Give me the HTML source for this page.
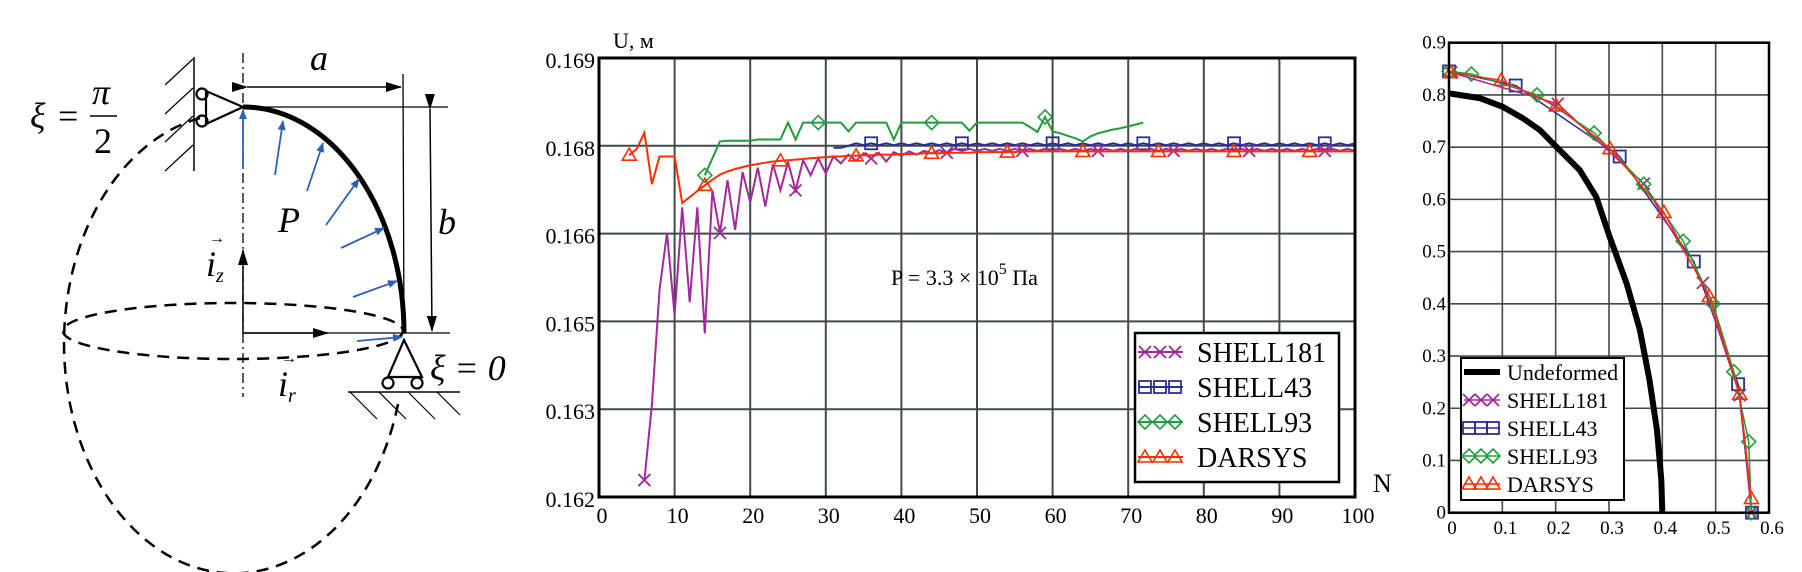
<!DOCTYPE html>
<html><head><meta charset="utf-8"><style>
html,body{margin:0;padding:0;background:#fff}
svg{display:block}
text{font-family:"Liberation Serif",serif;fill:#000}
</style></head><body>
<svg id="fig" width="1802" height="572" viewBox="0 0 1802 572" xmlns="http://www.w3.org/2000/svg">
<defs>
<marker id="ab" markerWidth="10" markerHeight="8" refX="9" refY="4" orient="auto" markerUnits="userSpaceOnUse"><path d="M0,0 L10,4 L0,8 Z" fill="#2e5fb8"/></marker>
<marker id="ak" markerWidth="16" markerHeight="10" refX="15" refY="5" orient="auto" markerUnits="userSpaceOnUse"><path d="M0,0 L16,5 L0,10 Z" fill="#000"/></marker>
</defs>
<g id="diagram" fill="none" stroke="#000">
  <line x1="243" y1="53" x2="243" y2="397" stroke-width="1.3" stroke-dasharray="10,4,2,4"/>
  <path d="M200,118 A170,230 0 1 0 398,404" stroke-width="2.5" stroke-dasharray="12,8"/>
  <ellipse cx="233" cy="331" rx="170" ry="28" stroke-width="2.5" stroke-dasharray="12,8"/>
  <path d="M243,107 A161,226 0 0 1 404,333" stroke-width="5"/>
  <line x1="403" y1="74" x2="404" y2="333" stroke-width="1.3"/>
  <line x1="247" y1="87" x2="401" y2="87" stroke-width="1.5" marker-end="url(#ak)" marker-start="url(#ak)"/>
  <line x1="243" y1="107" x2="448" y2="107" stroke-width="1.3"/>
  <line x1="430" y1="109" x2="432" y2="331" stroke-width="1.5" marker-end="url(#ak)" marker-start="url(#ak)"/>
  <line x1="243" y1="333" x2="450" y2="333" stroke-width="1.3"/>
  <line x1="243" y1="333" x2="328" y2="333" stroke-width="1.5" marker-end="url(#ak)"/>
  <line x1="243" y1="333" x2="243" y2="250" stroke-width="1.5" marker-end="url(#ak)"/>
  <line x1="194" y1="57" x2="194" y2="171" stroke-width="1.5"/>
  <path d="M165,85L193,59M165,114L193,88M165,142L193,116M165,171L193,145" stroke-width="1.2"/>
  <circle cx="202" cy="94" r="5.5" stroke-width="2.2"/>
  <circle cx="202" cy="121" r="5.5" stroke-width="2.2"/>
  <path d="M206,91 L243,107 L206,124 Z" stroke-width="2.2"/>
  <path d="M404,340 L388,377 L422,377 Z" stroke-width="2.2"/>
  <circle cx="388" cy="383" r="5.5" stroke-width="2.2"/>
  <circle cx="417" cy="383" r="5.5" stroke-width="2.2"/>
  <line x1="348" y1="392" x2="460" y2="392" stroke-width="1.5"/>
  <path d="M350,392L377,419M379,392L406,419M408,392L435,419M437,392L460,415" stroke-width="1.2"/>
  <g stroke="#2e5fb8" stroke-width="1.8">
    <line x1="243" y1="169" x2="243" y2="110" marker-end="url(#ab)"/>
    <line x1="275" y1="175" x2="283" y2="121" marker-end="url(#ab)"/>
    <line x1="307" y1="191" x2="323" y2="143" marker-end="url(#ab)"/>
    <line x1="326" y1="225" x2="359" y2="179" marker-end="url(#ab)"/>
    <line x1="341" y1="248" x2="384" y2="228" marker-end="url(#ab)"/>
    <line x1="353" y1="297" x2="397" y2="281" marker-end="url(#ab)"/>
    <line x1="357" y1="341" x2="402" y2="337" marker-end="url(#ab)"/>
  </g>
  <line x1="90" y1="116" x2="117" y2="116" stroke-width="1.5"/>
</g>
<g font-size="36">
  <text x="30" y="128" font-style="italic">ξ</text>
  <text x="58" y="128">=</text>
  <text x="92" y="104" font-style="italic">π</text>
  <text x="94" y="153">2</text>
  <text x="310" y="70" font-style="italic">a</text>
  <text x="438" y="234" font-style="italic">b</text>
  <text x="278" y="232" font-style="italic">P</text>
  <text x="206" y="276" font-style="italic">i<tspan font-size="20" dy="6">z</tspan></text>
  <text x="209" y="243" font-size="16">→</text>
  <text x="278" y="396" font-style="italic">i<tspan font-size="20" dy="6">r</tspan></text>
  <text x="281" y="363" font-size="16">→</text>
  <text x="430" y="380" font-style="italic">ξ = 0</text>
</g>
<g id="mid"></g>
<g id="right"></g>
</svg>
<script>
// ---- middle chart data ----
const redStart = 4;
const redVals = [0.16745,0.16755,0.16781,0.16699,0.16743,0.16743,0.16743,0.16669,0.16678,0.16688,
0.16697,0.16706,0.16714,0.16719,0.16723,0.16726,0.16729,0.16731,0.16733,0.16735,
0.16736,0.16737,0.16738,0.16739,0.16740,0.16741,0.16742,0.16743,0.16743,0.16744,
0.16744,0.16745,0.16745,0.16746,0.16746,0.16746,0.16747,0.16747,0.16747,0.16748,
0.16748,0.16748,0.16749,0.16749,0.16749,0.16749,0.16750,0.16750,0.16750,0.16750,
0.16750,0.16750,0.16751,0.16751,0.16751,0.16751,0.16751,0.16751,0.16751,0.16751,
0.16751,0.16751,0.16751,0.16751,0.16751,0.16751,0.16751,0.16751,0.16751,0.16751,
0.16751,0.16751,0.16751,0.16751,0.16751,0.16751,0.16751,0.16751,0.16751,0.16751,
0.16751,0.16751,0.16751,0.16751,0.16751,0.16751,0.16751,0.16751,0.16751,0.16751,
0.16751,0.16751,0.16751,0.16751,0.16751,0.16751,0.16751];
const magStart = 6;
const magVals = [0.16227,0.16347,0.16530,0.16621,0.16490,0.16662,0.16511,0.16662,0.16461,0.16689,
0.16621,0.16705,0.16626,0.16718,0.16670,0.16725,0.16663,0.16731,0.16689,0.16734,
0.16689,0.16737,0.16713,0.16740,0.16716,0.16743,0.16732,0.16746,0.16736,0.16748,
0.16740,0.16749,0.16735,0.16750,0.16744,0.16751,0.16746,0.16752,0.16748,0.16753,
0.16749,0.16755,0.16752,0.16755,0.16752,0.16755,0.16752,0.16755,0.16752,0.16755,
0.16752,0.16755,0.16752,0.16755,0.16752,0.16755,0.16752,0.16755,0.16752,0.16755,
0.16752,0.16755,0.16752,0.16755,0.16752,0.16755,0.16752,0.16755,0.16752,0.16755,
0.16752,0.16755,0.16752,0.16755,0.16752,0.16755,0.16752,0.16755,0.16752,0.16755,
0.16752,0.16755,0.16752,0.16755,0.16752,0.16755,0.16752,0.16755,0.16752,0.16755,
0.16752,0.16755,0.16752,0.16755,0.16752];
const blueStart = 31;
const blueVals = [0.16757,0.16757,0.16760,0.16764,0.16761,0.16764,0.16761,0.16764,0.16761,0.16764,
0.16761,0.16764,0.16761,0.16764,0.16761,0.16764,0.16761,0.16764,0.16761,0.16764,
0.16761,0.16764,0.16761,0.16764,0.16761,0.16764,0.16761,0.16764,0.16761,0.16764,
0.16761,0.16764,0.16761,0.16764,0.16761,0.16764,0.16761,0.16764,0.16761,0.16764,
0.16761,0.16764,0.16761,0.16764,0.16761,0.16764,0.16761,0.16764,0.16761,0.16764,
0.16761,0.16764,0.16761,0.16764,0.16761,0.16764,0.16761,0.16764,0.16761,0.16764,
0.16761,0.16764,0.16761,0.16764,0.16761,0.16764,0.16761,0.16764,0.16761,0.16764];
const greenStart = 14;
const greenVals = [0.16713,0.16740,0.16767,0.16768,0.16768,0.16768,0.16768,0.16770,0.16770,0.16770,
0.16770,0.16797,0.16770,0.16797,0.16797,0.16797,0.16797,0.16797,0.16797,0.16783,
0.16797,0.16797,0.16797,0.16797,0.16797,0.16770,0.16797,0.16797,0.16797,0.16797,
0.16797,0.16797,0.16797,0.16797,0.16797,0.16784,0.16797,0.16797,0.16797,0.16797,
0.16797,0.16797,0.16797,0.16790,0.16782,0.16806,0.16783,0.16780,0.16776,0.16772,
0.16767,0.16775,0.16780,0.16783,0.16786,0.16788,0.16791,0.16794,0.16797];
const midYTicks = [0.169,0.1676,0.1662,0.1648,0.1634,0.162];
const midYLabels = ['0.169','0.168','0.166','0.165','0.163','0.162'];
const midXTicks = [0,10,20,30,40,50,60,70,80,90,100];
const midLegend = ['SHELL181','SHELL43','SHELL93','DARSYS'];

// ---- right chart data ----
const undefX = [0,0.0575,0.101,0.139,0.17,0.201,0.245,0.276,0.301,0.333,0.358,0.376,0.39,0.398,0.4];
const undefY = [0.803,0.794,0.777,0.755,0.733,0.701,0.656,0.605,0.529,0.439,0.35,0.254,0.158,0.063,0];
const s181X = [0.004,0.204,0.365,0.476,0.545,0.567];
const s181Y = [0.843,0.783,0.630,0.440,0.225,0];
const s43X = [0,0.125,0.32,0.459,0.542,0.568];
const s43Y = [0.845,0.818,0.682,0.481,0.246,0];
const s93X = [0,0.042,0.165,0.272,0.365,0.439,0.495,0.534,0.562,0.567];
const s93Y = [0.845,0.840,0.800,0.727,0.629,0.520,0.400,0.270,0.136,0];
const darX = [0.003,0.098,0.201,0.302,0.403,0.488,0.545,0.567];
const darY = [0.843,0.828,0.779,0.697,0.575,0.414,0.227,0.027];
const rTicksX = [0,0.1,0.2,0.3,0.4,0.5,0.6];
const rTicksY = [0,0.1,0.2,0.3,0.4,0.5,0.6,0.7,0.8,0.9];
const rLegend = ['Undeformed','SHELL181','SHELL43','SHELL93','DARSYS'];

const NS = 'http://www.w3.org/2000/svg';
function mk(tag, attrs, parent){const e=document.createElementNS(NS,tag);for(const k in attrs)e.setAttribute(k,attrs[k]);parent.appendChild(e);return e;}

const COL = {mag:'#a3289b', blue:'#2b2d91', green:'#1e9e3a', red:'#ff2d00'};
function marker(kind,x,y,col,parent){
  let e;
  if(kind==='x'){e=mk('path',{d:`M${x-6},${y-6}L${x+6},${y+6}M${x-6},${y+6}L${x+6},${y-6}`,stroke:col,'stroke-width':1.8,fill:'none'},parent);}
  else if(kind==='sq'){e=mk('rect',{x:x-6,y:y-6,width:12,height:12,stroke:col,'stroke-width':1.8,fill:'none'},parent);}
  else if(kind==='dm'){e=mk('path',{d:`M${x},${y-7}L${x+7},${y}L${x},${y+7}L${x-7},${y}Z`,stroke:col,'stroke-width':1.6,fill:'none'},parent);}
  else {e=mk('path',{d:`M${x},${y-7}L${x+7},${y+5}L${x-7},${y+5}Z`,stroke:col,'stroke-width':1.6,fill:'none'},parent);}
  
  
  return e;
}

// ---- middle chart ----
const mid = document.getElementById('mid');
const mL=599,mR=1355,mT=58,mB=497;
const mx = n => mL + n/100*(mR-mL);
const my = v => mB - (v-0.162)/0.007*(mB-mT);
midXTicks.forEach(t=>{
  if(t>0&&t<100){const g=mk('line',{x1:mx(t),y1:mT,x2:mx(t),y2:mB,stroke:'#404a4a','stroke-width':2},mid);
  
  }
  const tx=mk('text',{x:mx(t)+3,y:523,'font-size':22,'text-anchor':'middle'},mid);tx.textContent=t;
  
  
});
midYTicks.forEach((t,i)=>{
  if(i>0&&i<midYTicks.length-1){const g=mk('line',{x1:mL,y1:my(t),x2:mR,y2:my(t),stroke:'#404a4a','stroke-width':2},mid);
  
  }
  const tx=mk('text',{x:595,y:my(t)+10,'font-size':22,'text-anchor':'end'},mid);tx.textContent=midYLabels[i];
  
  
});
function midSeries(start,vals,col,kind,every,off,name){
  const g=mk('g',{},mid);
  
  
  const pts=vals.map((v,i)=>mx(start+i).toFixed(1)+','+my(v).toFixed(1)).join(' ');
  mk('polyline',{points:pts,fill:'none',stroke:col,'stroke-width':2},g);
  vals.forEach((v,i)=>{if(i>=off&&(i-off)%every===0)marker(kind,mx(start+i),my(v),col,g);});
}
midSeries(greenStart,greenVals,COL.green,'dm',15,0,'series-shell93');
midSeries(blueStart,blueVals,COL.blue,'sq',12,5,'series-shell43');
midSeries(magStart,magVals,COL.mag,'x',10,0,'series-shell181');
midSeries(redStart,redVals,COL.red,'tr',10,0,'series-darsys');
const mb=mk('rect',{x:mL,y:mT,width:mR-mL,height:mB-mT,fill:'none',stroke:'#000','stroke-width':3},mid);


let t1=mk('text',{x:613,y:48,'font-size':22},mid);t1.textContent='U, м';


let t2=mk('text',{x:1373,y:492,'font-size':26},mid);t2.textContent='N';


let t3=mk('text',{x:891,y:285,'font-size':22},mid);
t3.innerHTML='P = 3.3 × 10<tspan dy="-11" font-size="16">5</tspan><tspan dy="11"> Па</tspan>';


// legend
const lg=mk('g',{},mid);


mk('rect',{x:1135,y:333,width:204,height:149,fill:'#fff',stroke:'#000','stroke-width':2.5},lg);
const midKinds=[['x',COL.mag],['sq',COL.blue],['dm',COL.green],['tr',COL.red]];
midLegend.forEach((s,i)=>{
  const y=352+i*35;
  const e=mk('g',{},lg);
  
  
  mk('line',{x1:1138,y1:y,x2:1183,y2:y,stroke:midKinds[i][1],'stroke-width':2},e);
  [1145,1160,1175].forEach(x=>marker(midKinds[i][0],x,y,midKinds[i][1],e));
  const t=mk('text',{x:1197,y:y+10,'font-size':28},e);t.textContent=s;
});

// ---- right chart ----
const rc=document.getElementById('right');
const rL=1449,rR=1769,rT=42.7,rB=512.7;
const rx=v=>rL+v/0.6*(rR-rL);
const ry=v=>rB-v/0.9*(rB-rT);
rTicksX.forEach(t=>{
  if(t>0&&t<0.6){const g=mk('line',{x1:rx(t),y1:rT,x2:rx(t),y2:rB,stroke:'#404a4a','stroke-width':1.6},rc);
  
  }
  const tx=mk('text',{x:rx(t)+3,y:534,'font-size':19,'text-anchor':'middle'},rc);tx.textContent=t;
  
  
});
rTicksY.forEach(t=>{
  if(t>0&&t<0.9){const g=mk('line',{x1:rL,y1:ry(t),x2:rR,y2:ry(t),stroke:'#404a4a','stroke-width':1.6},rc);
  
  }
  const tx=mk('text',{x:1446,y:ry(t)+6,'font-size':19,'text-anchor':'end'},rc);tx.textContent=t;
  
  
});
function rSeries(xs,ys,col,kind,w,name){
  const g=mk('g',{},rc);
  
  
  mk('polyline',{points:xs.map((x,i)=>rx(x).toFixed(1)+','+ry(ys[i]).toFixed(1)).join(' '),fill:'none',stroke:col,'stroke-width':w},g);
  if(kind)xs.forEach((x,i)=>marker(kind,rx(x),ry(ys[i]),col,g));
}
rSeries(undefX,undefY,'#000',null,6,'series-undeformed');
rSeries(s43X,s43Y,COL.blue,'sq',1.5,'series-shell43');
rSeries(s181X,s181Y,COL.mag,'x',1.5,'series-shell181');
rSeries(s93X,s93Y,COL.green,'dm',1.5,'series-shell93');
rSeries(darX,darY,COL.red,'tr',1.5,'series-darsys');
const rb=mk('rect',{x:rL,y:rT,width:rR-rL,height:rB-rT,fill:'none',stroke:'#000','stroke-width':2.5},rc);


const rl=mk('g',{},rc);


mk('rect',{x:1461,y:358,width:163,height:142,fill:'#fff',stroke:'#000','stroke-width':2},rl);
const rKinds=[[null,'#000'],['x',COL.mag],['sq',COL.blue],['dm',COL.green],['tr',COL.red]];
rLegend.forEach((s,i)=>{
  const y=372+i*28;
  const e=mk('g',{},rl);
  
  
  mk('line',{x1:1464,y1:y,x2:1500,y2:y,stroke:rKinds[i][1],'stroke-width':rKinds[i][0]?1.5:6},e);
  if(rKinds[i][0])[1469,1481,1493].forEach(x=>marker(rKinds[i][0],x,y,rKinds[i][1],e));
  const t=mk('text',{x:1507,y:y+8,'font-size':22},e);t.textContent=s;
});
</script>
</body></html>
